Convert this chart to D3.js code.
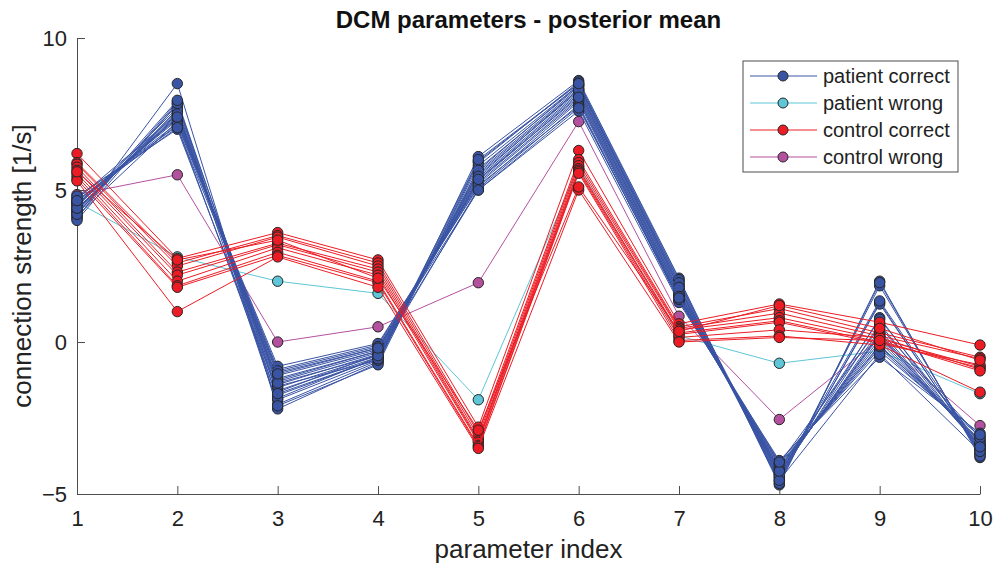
<!DOCTYPE html>
<html>
<head>
<meta charset="utf-8">
<script src="https://cdn.jsdelivr.net/npm/d3@7/dist/d3.min.js"></script>
<style>
  html, body { margin: 0; padding: 0; background: #fff; }
  svg { display: block; font-family: "Liberation Sans", Arial, Helvetica, sans-serif; }
</style>
</head>
<body>
<svg id="chart" width="1004" height="564"></svg>
<script>
// Parameter indices on the x axis
const paramIndex = [1, 2, 3, 4, 5, 6, 7, 8, 9, 10];
const xTicks = [1, 2, 3, 4, 5, 6, 7, 8, 9, 10];
const yTicks = [-5, 0, 5, 10];

// Posterior means, one row per subject
const patientCorrect = [
  [4.05, 8.50, -2.20, -0.70, 6.10, 8.60, 2.10, -4.70, 2.00, -3.80],
  [4.10, 7.90, -2.05, -0.65, 5.95, 8.50, 2.00, -4.60, 1.85, -3.70],
  [4.20, 7.80, -1.90, -0.60, 5.80, 8.45, 1.90, -4.55, 1.30, -3.65],
  [4.45, 7.70, -1.75, -0.55, 5.70, 8.40, 1.85, -4.50, 1.25, -3.60],
  [4.30, 7.60, -1.60, -0.50, 5.60, 8.35, 1.80, -4.45, 0.80, -3.55],
  [4.35, 7.55, -1.50, -0.45, 5.55, 8.30, 1.75, -4.40, 0.60, -3.50],
  [4.70, 7.50, -1.40, -0.40, 5.50, 8.25, 1.70, -4.35, 0.40, -3.45],
  [4.40, 7.45, -1.30, -0.35, 5.40, 8.20, 1.65, -4.30, 0.30, -3.40],
  [4.50, 7.40, -1.20, -0.30, 5.35, 8.15, 1.60, -4.25, 0.20, -3.40],
  [4.55, 7.35, -1.10, -0.25, 5.30, 8.10, 1.55, -4.20, 0.10, -3.35],
  [4.60, 7.30, -1.00, -0.20, 5.25, 8.00, 1.50, -4.15, 0.00, -3.30],
  [4.15, 7.25, -0.90, -0.10, 5.20, 7.95, 1.45, -4.10, -0.10, -3.25],
  [4.65, 7.20, -0.80, -0.05, 5.10, 7.90, 1.40, -4.05, -0.20, -3.20],
  [4.75, 7.10, -1.85, -0.50, 5.05, 7.80, 1.35, -4.00, -0.30, -3.10],
  [4.80, 7.00, -1.65, -0.40, 5.00, 7.60, 1.30, -3.90, -0.50, -3.00],
  [4.25, 7.65, -2.10, -0.75, 5.90, 8.55, 2.05, -4.65, 1.95, -3.75],
  [4.00, 7.85, -1.45, -0.60, 5.65, 8.45, 1.95, -4.40, 1.35, -3.50],
  [4.35, 7.50, -1.25, -0.30, 5.45, 8.30, 1.60, -4.20, 0.75, -3.35],
  [4.55, 7.15, -0.95, -0.15, 5.15, 7.75, 1.40, -4.00, 0.50, -3.15],
  [4.20, 7.95, -1.70, -0.55, 6.00, 8.50, 1.80, -4.55, -0.40, -3.60],
  [4.40, 7.40, -1.35, -0.45, 5.35, 8.05, 1.50, -4.25, 0.25, -3.45],
  [4.65, 7.05, -1.05, -0.20, 5.00, 7.70, 1.45, -3.95, -0.15, -3.05]
];

const patientWrong = [
  [4.60, 2.80, 2.00, 1.60, -1.90, 5.75, 0.20, -0.70, -0.30, -1.70]
];

const controlCorrect = [
  [6.20, 2.75, 3.60, 2.70, -2.80, 6.30, 0.60, 1.25, 0.65, -0.10],
  [5.90, 2.60, 3.50, 2.60, -3.00, 6.00, 0.50, 1.10, 0.30, -0.50],
  [5.85, 2.50, 3.45, 2.50, -3.10, 5.90, 0.45, 0.95, 0.20, -0.55],
  [5.75, 2.30, 3.25, 2.40, -3.20, 5.80, 0.40, 0.80, 0.10, -0.80],
  [5.65, 2.20, 3.20, 2.30, -3.25, 5.70, 0.30, 0.70, 0.00, -0.85],
  [5.55, 2.00, 3.10, 2.20, -3.30, 5.65, 0.25, 0.65, -0.05, -0.75],
  [5.45, 1.85, 2.95, 2.00, -3.40, 5.60, 0.15, 0.40, 0.15, -0.90],
  [5.35, 1.80, 2.85, 1.95, -3.45, 5.55, 0.05, 0.20, -0.10, -1.65],
  [5.30, 1.00, 2.80, 1.80, -3.50, 5.00, 0.00, 0.15, 0.05, -0.95],
  [5.60, 2.70, 3.35, 2.10, -2.90, 5.10, 0.35, 1.20, 0.45, -0.60]
];

const controlWrong = [
  [4.85, 5.50, 0.00, 0.50, 1.95, 7.25, 0.85, -2.55, 0.10, -2.75]
];

const groupNames = ["patient correct", "patient wrong", "control correct", "control wrong"];
const groupColors = ["#3a54a4", "#5ec6d6", "#ec1c24", "#b4519f"];
const groupData = [patientCorrect, patientWrong, controlCorrect, controlWrong];
// Stacking order of the groups (bottom to top)
const drawOrder = [1, 3, 0, 2];

const svg = d3.select("#chart");
const margin = { left: 77, right: 24, top: 38, bottom: 70 };
const W = 1004, H = 564;

const x = d3.scaleLinear().domain([1, 10]).range([margin.left, W - margin.right]);
const y = d3.scaleLinear().domain([-5, 10]).range([H - margin.bottom, margin.top]);

// Axes: left and bottom only, ticks pointing inward
const axisColor = "#4d4d4d";
const xAxis = svg.append("g")
  .attr("transform", `translate(0,${y(-5)})`)
  .call(d3.axisBottom(x).tickValues(xTicks).tickSizeInner(-8).tickSizeOuter(0).tickPadding(16).tickFormat(d3.format("d")));
const yAxis = svg.append("g")
  .attr("transform", `translate(${x(1)},0)`)
  .call(d3.axisLeft(y).tickValues(yTicks).tickSizeInner(-8).tickSizeOuter(0).tickPadding(10).tickFormat(d3.format("d")));
[xAxis, yAxis].forEach(g => {
  g.select(".domain").attr("stroke", axisColor).attr("stroke-width", 1);
  g.selectAll(".tick line").attr("stroke", axisColor);
  g.selectAll(".tick text").attr("fill", "#222").style("font-size", "22px").attr("font-family", null);
});

// Subject trajectories
const line = d3.line().x((d, i) => x(paramIndex[i])).y(d => y(d));
const plot = svg.append("g");
drawOrder.forEach(gi => {
  const g = plot.append("g");
  groupData[gi].forEach(row => {
    g.append("path")
      .attr("d", line(row))
      .attr("fill", "none")
      .attr("stroke", groupColors[gi])
      .attr("stroke-width", 1);
    g.selectAll(null).data(row).enter().append("circle")
      .attr("cx", (d, i) => x(paramIndex[i]))
      .attr("cy", d => y(d))
      .attr("r", 5.2)
      .attr("fill", groupColors[gi])
      .attr("stroke", "#262626")
      .attr("stroke-width", 1);
  });
});

// Title and axis labels
svg.append("text")
  .attr("x", (x(1) + x(10)) / 2).attr("y", 28)
  .attr("text-anchor", "middle").attr("font-weight", "bold")
  .style("font-size", "24px").attr("fill", "#111")
  .text("DCM parameters - posterior mean");
svg.append("text")
  .attr("x", (x(1) + x(10)) / 2).attr("y", 558)
  .attr("text-anchor", "middle")
  .style("font-size", "26px").attr("fill", "#222")
  .text("parameter index");
svg.append("text")
  .attr("transform", `translate(31,${(y(-5) + y(10)) / 2}) rotate(-90)`)
  .attr("text-anchor", "middle")
  .style("font-size", "26px").attr("fill", "#222")
  .text("connection strength [1/s]");

// Legend
const lg = svg.append("g");
lg.append("rect")
  .attr("x", 743).attr("y", 61).attr("width", 215).attr("height", 111)
  .attr("fill", "#fff").attr("stroke", "#4d4d4d").attr("stroke-width", 1);
groupNames.forEach((name, i) => {
  const cy = 76 + i * 27;
  lg.append("line").attr("x1", 750).attr("x2", 817).attr("y1", cy).attr("y2", cy)
    .attr("stroke", groupColors[i]).attr("stroke-width", 1);
  lg.append("circle").attr("cx", 783).attr("cy", cy).attr("r", 5)
    .attr("fill", groupColors[i]).attr("stroke", "#262626").attr("stroke-width", 1);
  lg.append("text").attr("x", 823).attr("y", cy).attr("dy", "0.35em")
    .style("font-size", "20px").attr("fill", "#222").text(name);
});
</script>
</body>
</html>
